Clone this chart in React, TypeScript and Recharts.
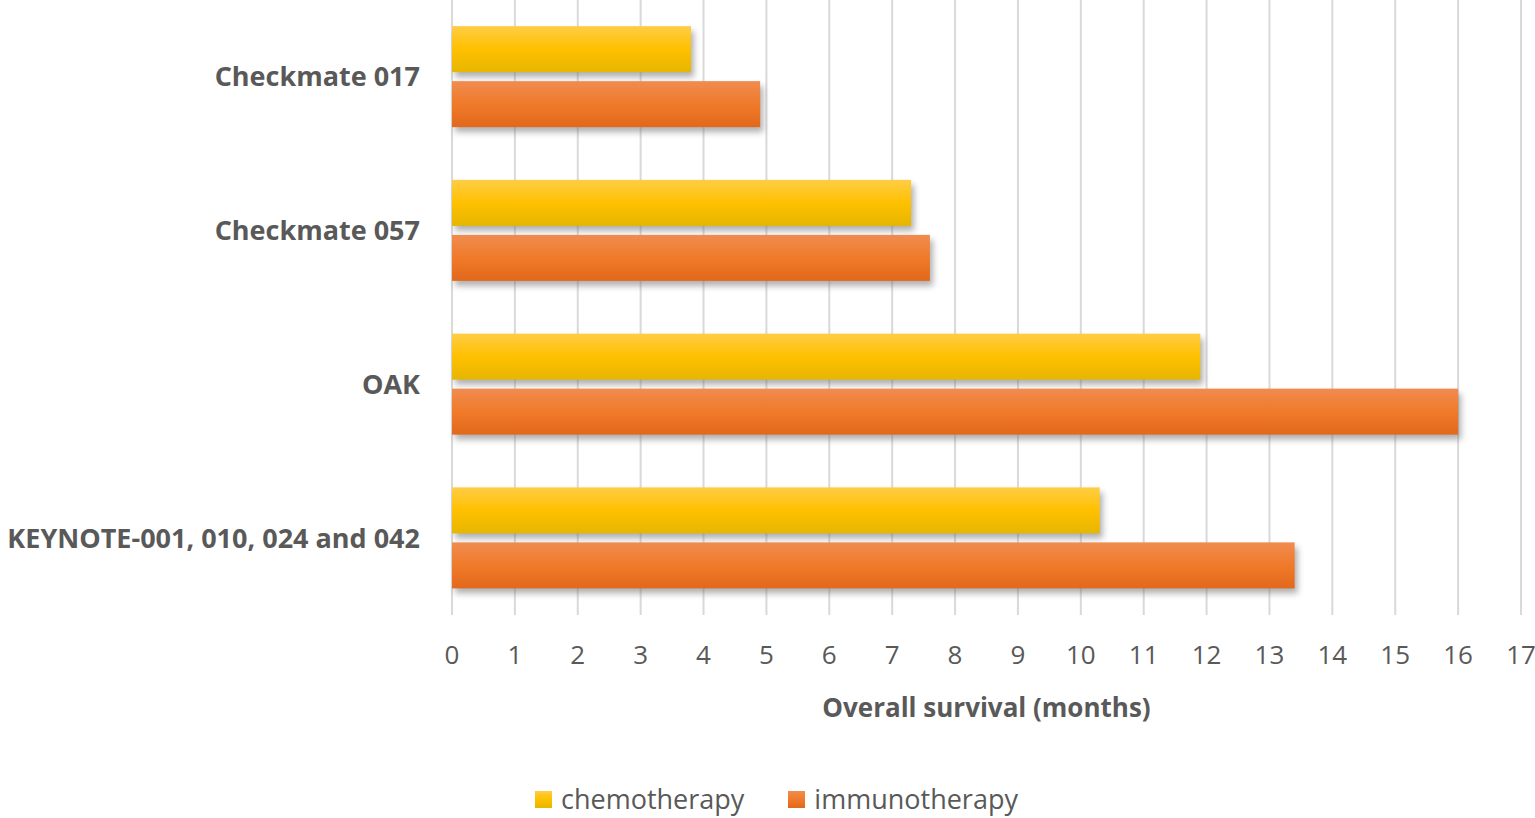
import { BarChart, Bar, XAxis, YAxis, CartesianGrid, Legend } from 'recharts'

const trials = ['Checkmate 017', 'Checkmate 057', 'OAK', 'KEYNOTE-001, 010, 024 and 042']
const chemotherapy = [3.8, 7.3, 11.9, 10.3]
const immunotherapy = [4.9, 7.6, 16.0, 13.4]
const monthTicks = [0, 1, 2, 3, 4, 5, 6, 7, 8, 9, 10, 11, 12, 13, 14, 15, 16, 17]

const data = trials.map((trial, i) => ({
  trial,
  chemotherapy: chemotherapy[i],
  immunotherapy: immunotherapy[i],
}))

const FONT = '"Open Sans", "Noto Sans", sans-serif'
const GREY = '#595959'

// bar with a soft drop shadow like the office chart style
function ShadowBar(props: any) {
  const { x, y, width, height, gradient } = props
  if (!width || width <= 0) return null
  return (
    <g>
      <rect
        x={x + 3}
        y={y + 5}
        width={width}
        height={height}
        fill="#6f6f6f"
        opacity={0.55}
        filter="url(#barShadow)"
      />
      <rect x={x} y={y} width={width} height={height} fill={`url(#${gradient})`} />
    </g>
  )
}

const legendGrad: Record<string, string> = {
  chemotherapy: 'linear-gradient(#ffcd45, #ffc000, #e6b600)',
  immunotherapy: 'linear-gradient(#f08c50, #f07a2a, #e2681c)',
}

function LegendContent(props: any) {
  const { payload = [] } = props
  return (
    <div
      style={{
        display: 'flex',
        justifyContent: 'center',
        gap: 44,
        paddingLeft: 32,
        paddingTop: 4,
        fontFamily: FONT,
      }}
    >
      {payload.map((item: any) => (
        <div key={item.value} style={{ display: 'flex', alignItems: 'center' }}>
          <span
            style={{
              display: 'inline-block',
              width: 17,
              height: 17,
              marginRight: 9,
              background: legendGrad[item.value] ?? item.color,
            }}
          />
          <span style={{ color: GREY, fontSize: 27, lineHeight: '38px' }}>{item.value}</span>
        </div>
      ))}
    </div>
  )
}

export default function App() {
  return (
    <div style={{ position: 'absolute', left: 0, top: 0, fontFamily: FONT }}>
      <BarChart
        width={1535}
        height={818}
        data={data}
        layout="vertical"
        margin={{ top: 0, right: 14, left: 0, bottom: 51 }}
        barCategoryGap="17%"
        barGap={9}
      >
        <defs>
          <linearGradient id="gradChemo" x1="0" y1="0" x2="0" y2="1">
            <stop offset="0%" stopColor="#ffcd45" />
            <stop offset="50%" stopColor="#ffc000" />
            <stop offset="100%" stopColor="#e6b600" />
          </linearGradient>
          <linearGradient id="gradImmuno" x1="0" y1="0" x2="0" y2="1">
            <stop offset="0%" stopColor="#f08c50" />
            <stop offset="50%" stopColor="#f07a2a" />
            <stop offset="100%" stopColor="#e2681c" />
          </linearGradient>
          <filter id="barShadow" x="-10%" y="-30%" width="120%" height="160%">
            <feGaussianBlur stdDeviation="3" />
          </filter>
        </defs>
        <CartesianGrid horizontal={false} stroke="#d9d9d9" strokeWidth={2} />
        <XAxis
          type="number"
          domain={[0, 17]}
          ticks={monthTicks}
          interval={0}
          axisLine={false}
          tickLine={false}
          tickMargin={25}
          height={110}
          tick={{ fill: GREY, fontSize: 26, fontFamily: FONT }}
          label={{
            value: 'Overall survival (months)',
            position: 'insideBottom',
            offset: 8,
            fill: GREY,
            fontSize: 26,
            fontWeight: 'bold',
            fontFamily: FONT,
          }}
        />
        <YAxis
          type="category"
          dataKey="trial"
          width={452}
          axisLine={false}
          tickLine={false}
          tickMargin={26}
          tick={{ fill: GREY, fontSize: 27, fontWeight: 'bold', fontFamily: FONT }}
        />
        <Legend
          verticalAlign="bottom"
          align="center"
          wrapperStyle={{ bottom: 0 }}
          content={<LegendContent />}
        />
        <Bar
          dataKey="chemotherapy"
          name="chemotherapy"
          fill="#ffc000"
          isAnimationActive={false}
          shape={(p: any) => <ShadowBar {...p} gradient="gradChemo" />}
        />
        <Bar
          dataKey="immunotherapy"
          name="immunotherapy"
          fill="#ed7d31"
          isAnimationActive={false}
          shape={(p: any) => <ShadowBar {...p} gradient="gradImmuno" />}
        />
      </BarChart>
    </div>
  )
}
